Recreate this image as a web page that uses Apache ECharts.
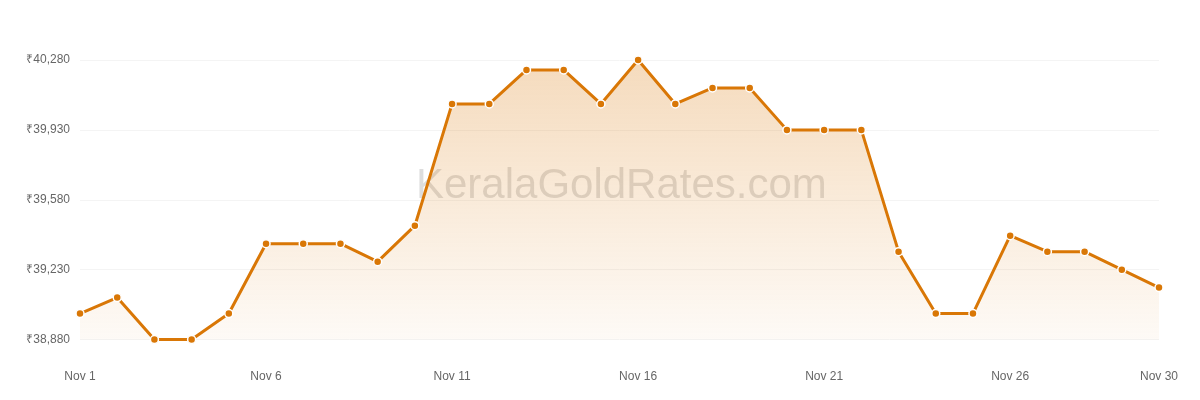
<!DOCTYPE html>
<html><head><meta charset="utf-8">
<script src="https://cdn.jsdelivr.net/npm/echarts@6/dist/echarts.min.js"></script>
<style>html,body{margin:0;padding:0;background:#fff}#c{width:1200px;height:400px}</style>
</head><body><div id="c"></div>
<script>
const categories = ["Nov 1","Nov 2","Nov 3","Nov 4","Nov 5","Nov 6","Nov 7","Nov 8","Nov 9","Nov 10","Nov 11","Nov 12","Nov 13","Nov 14","Nov 15","Nov 16","Nov 17","Nov 18","Nov 19","Nov 20","Nov 21","Nov 22","Nov 23","Nov 24","Nov 25","Nov 26","Nov 27","Nov 28","Nov 29","Nov 30"];
const prices = [39010,39090,38880,38880,39010,39360,39360,39360,39270,39450,40060,40060,40230,40230,40060,40280,40060,40140,40140,39930,39930,39930,39320,39010,39010,39400,39320,39320,39230,39140];
const yTicks = [38880,39230,39580,39930,40280];
const watermark = "KeralaGoldRates.com";

const chart = echarts.init(document.getElementById('c'));
chart.setOption({
  animation:false,
  grid:{left:80,right:41,top:60,bottom:60.5},
  graphic:[{type:'text',left:416,top:165,z:0,silent:true,style:{text:watermark,font:'42px "Liberation Sans", Arial, sans-serif',fill:'rgba(120,120,120,0.25)'}}],
  xAxis:{type:'category',data:categories,boundaryGap:false,
    axisLine:{show:false},axisTick:{show:false},
    axisLabel:{interval:(i)=> i%5===0 || i===categories.length-1,margin:31,color:'#666',fontSize:12,fontFamily:'"Liberation Sans", Arial, sans-serif'}},
  yAxis:{type:'value',min:yTicks[0],max:yTicks[yTicks.length-1],interval:350,
    axisLine:{show:false},axisTick:{show:false},
    splitLine:{lineStyle:{color:'#f4f4f4',width:1}},
    axisLabel:{margin:10,color:'#666',fontSize:12,fontFamily:'"Liberation Sans", Arial, sans-serif',
      formatter:(v)=>'₹'+v.toLocaleString('en-US')}},
  series:[{type:'line',data:prices,symbol:'circle',symbolSize:8,z:5,
    lineStyle:{color:'#d97706',width:3},
    itemStyle:{color:'#d97706',borderColor:'#fff',borderWidth:1.5},
    areaStyle:{color:new echarts.graphic.LinearGradient(0,0,0,1,[{offset:0,color:'rgba(217,119,6,0.38)'},{offset:1,color:'rgba(217,119,6,0.05)'}])}
  }]
});
</script></body></html>
